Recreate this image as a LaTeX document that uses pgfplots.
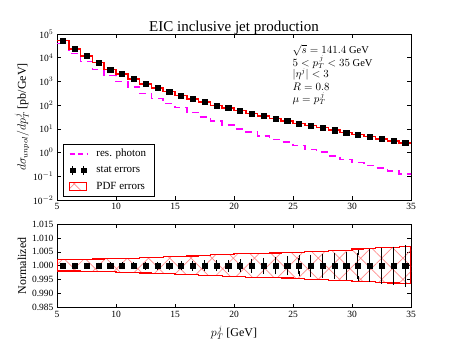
\documentclass[border=0pt]{standalone}
\usepackage{pgfplots}
\pgfplotsset{compat=1.18}
\usepackage{pgfplotstable}
\usetikzlibrary{patterns.meta}
\usepackage{fontspec}
\setmainfont{Liberation Serif}
\definecolor{mag}{RGB}{255,0,255}
\definecolor{pdfred}{RGB}{255,0,0}

% xl = left bin edge, y = dsigma (pb/GeV), ph = resolved photon, err = stat error (relative)
\pgfplotstableread{
xl   y      ph      err
5    53700  38900   0.0001
6    23400  15100   0.0001
7    11750  6760    0.0002
8    6170   3240    0.0002
9    3240   1740    0.0003
10   2040   1000    0.0003
11   1260   589     0.0004
12   794    316     0.0005
13   537    191     0.0006
14   372    117     0.0007
15   257    79.4    0.0008
16   186    49.0    0.0009
17   135    31.6    0.0010
18   97.7   21.9    0.0011
19   75.9   14.8    0.0012
20   60.3   10.0    0.0014
21   44.7   7.24    0.0017
22   34.7   4.90    0.0019
23   27.5   3.55    0.0022
24   21.4   2.75    0.0026
25   17.0   2.00    0.0028
26   14.1   1.32    0.0031
27   11.2   1.07    0.0034
28   8.71   0.72    0.0038
29   6.92   0.52    0.0042
30   5.75   0.38    0.0046
31   4.79   0.28    0.0050
32   3.80   0.22    0.0055
33   3.09   0.166   0.0060
34   2.51   0.126   0.0066
35   2.51   0.115   0.0066
}\jet

% PDF error band (normalized), upper edge forward then lower edge back
\pgfplotstableread{
x   y
5   1.0022
6   1.0022
7   1.0023
8   1.0024
9   1.0025
10  1.0026
11  1.0027
12  1.0029
13  1.0031
14  1.0032
15  1.0034
16  1.0035
17  1.0037
18  1.0039
19  1.0041
20  1.0043
21  1.0044
22  1.0045
23  1.0046
24  1.0047
25  1.0048
26  1.0050
27  1.0052
28  1.0054
29  1.0056
30  1.0060
31  1.0062
32  1.0065
33  1.0067
34  1.0069
35  1.0069
35  0.9936
34  0.9938
33  0.9940
32  0.9942
31  0.9944
30  0.9947
29  0.9948
28  0.9950
27  0.9952
26  0.9954
25  0.9956
24  0.9957
23  0.9958
22  0.9959
21  0.9960
20  0.9962
19  0.9964
18  0.9966
17  0.9968
16  0.9970
15  0.9971
14  0.9973
13  0.9974
12  0.9976
11  0.9977
10  0.9978
9   0.9979
8   0.9980
7   0.9981
6   0.9981
5   0.9981
5   1.0022
}\band

\tikzset{
  hatch/.style={pattern={Hatch[angle=45,distance=15pt,line width=0.7pt]}, pattern color=pdfred!45},
}
\pgfplotsset{
  panel/.style={
    scale only axis,
    width=354pt,
    xmin=5, xmax=35,
    xtick={5,10,...,35},
    axis line style={line width=0.8pt},
    tick style={black, line width=0.6pt},
    major tick length=4pt,
    minor tick length=2pt,
    tick label style={font=\fontsize{9.5}{11}\selectfont},
    /pgf/number format/assume math mode=true,
    label style={font=\fontsize{12}{14}\selectfont},
  },
}

\begin{document}
\begin{tikzpicture}
\useasboundingbox (0,0) rectangle (457pt,343pt);

\begin{axis}[panel,
    at={(57pt,143pt)}, anchor=south west,
    height=166pt,
    ymode=log, log basis y=10,
    ymin=1e-2, ymax=1e5,
    ytickten={-2,...,5},
    yticklabel={10$^{\pgfmathprintnumber{\tick}}$},
    title={EIC inclusive jet production},
    title style={at={(axis description cs:0.5,1)}, anchor=base, yshift=-3pt,
      font=\fontsize{15}{17}\selectfont},
    ylabel={$d\sigma_{unpol}/dp_T^{\,j}$ [pb/GeV]},
    ylabel style={at={(axis description cs:-0.099,0.5)}, anchor=center},
    legend style={at={(rel axis cs:0.016,0.024)}, anchor=south west,
      font=\fontsize{11}{13}\selectfont, row sep=4pt,
      column sep=7pt, inner xsep=6pt, inner ysep=3pt},
    legend cell align=left,
]
\addplot[mag, line width=1.5pt, dash pattern=on 7pt off 5pt, const plot, forget plot]
  table[x=xl, y=ph] {\jet};
\addplot[pdfred, line width=1.6pt, const plot, forget plot]
  table[x=xl, y=y] {\jet};
\addplot[only marks, mark=square*, mark size=2.6pt, black, forget plot,
  restrict x to domain=5:35]
  table[x expr=\thisrow{xl}+0.5, y=y] {\jet};

\addlegendimage{mag, line width=1.5pt, dash pattern=on 5pt off 3.5pt, sharp plot}
\addlegendentry{res. photon}
\addlegendimage{legend image code/.code={
  \draw[black, line width=0.8pt] (0.1cm,-0.15cm) -- (0.1cm,0.15cm)
    (0.5cm,-0.15cm) -- (0.5cm,0.15cm);
  \fill[black] (0.1cm,0cm) +(-2.4pt,-2.4pt) rectangle +(2.4pt,2.4pt);
  \fill[black] (0.5cm,0cm) +(-2.4pt,-2.4pt) rectangle +(2.4pt,2.4pt);
}}
\addlegendentry{stat errors}
\addlegendimage{legend image code/.code={
  \draw[pdfred, line width=1.2pt, hatch] (0cm,-0.13cm) rectangle (0.6cm,0.13cm);
}}
\addlegendentry{PDF errors}

\begin{scope}[every node/.style={anchor=west, inner sep=0pt, font=\fontsize{10.5}{12}\selectfont}]
\node at (rel axis cs:0.665,0.900) {$\sqrt{s}=141.4$ GeV};
\node at (rel axis cs:0.665,0.828) {$5<p_T^{\,j}<35$ GeV};
\node at (rel axis cs:0.665,0.757) {$|\eta^j|<3$};
\node at (rel axis cs:0.665,0.684) {$R=0.8$};
\node at (rel axis cs:0.665,0.611) {$\mu=p_T^{\,j}$};
\end{scope}
\end{axis}

\begin{axis}[panel,
    at={(57pt,35.5pt)}, anchor=south west,
    height=83.5pt,
    ymin=0.985, ymax=1.015,
    ytick={0.985,0.990,0.995,1.000,1.005,1.010,1.015},
    yticklabel style={/pgf/number format/fixed, /pgf/number format/fixed zerofill,
      /pgf/number format/precision=3},
    ylabel={Normalized},
    ylabel style={at={(axis description cs:-0.099,0.5)}, anchor=center},
    xlabel={$p_T^{\,j}$ [GeV]},
    xlabel style={at={(axis description cs:0.5,-0.305)}, anchor=center},
]
\addplot[pdfred, line width=1.2pt, const plot, hatch] table[x=x, y=y] {\band};
\addplot[only marks, mark=square*, mark size=2.6pt, black,
  restrict x to domain=5:35,
  error bars/.cd, y dir=both, y explicit, error mark=-,
  error mark options={black, line width=0.8pt, mark size=2.5pt},
  error bar style={black, line width=1pt}]
  table[x expr=\thisrow{xl}+0.5, y expr=1, y error=err] {\jet};
\end{axis}
\end{tikzpicture}
\end{document}
